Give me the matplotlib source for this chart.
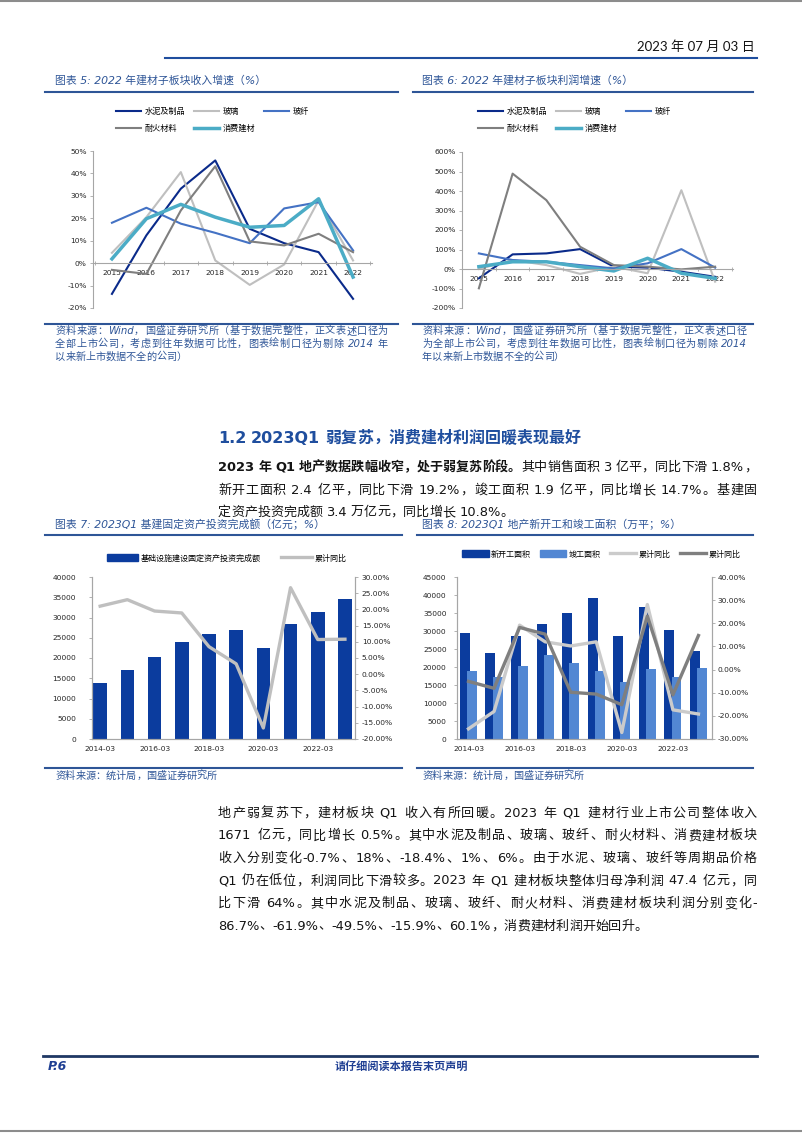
import numpy as np
import matplotlib
matplotlib.use('Agg')
import matplotlib.pyplot as plt
from matplotlib.lines import Line2D
from matplotlib.patches import Patch
from matplotlib.ticker import FuncFormatter

plt.rcParams['font.family'] = ['DejaVu Sans', 'Noto Sans CJK SC']
plt.rcParams['axes.unicode_minus'] = False

W, H = 802, 1133

# ---------------- data ----------------
years = ['2015', '2016', '2017', '2018', '2019', '2020', '2021', '2022']
sectors = ['水泥及制品', '玻璃', '玻纤', '耐火材料', '消费建材']

# 图表5 收入增速 (%)
rev_cement = [-13.7, 12.4, 33.2, 45.8, 15.3, 8.9, 4.9, -15.9]
rev_glass = [4.6, 20.5, 40.6, 1.2, -9.7, -0.6, 28.0, 1.2]
rev_fiber = [18.0, 24.7, 17.6, 13.5, 8.9, 24.4, 27.2, 5.7]
rev_refr = [-3.0, -4.8, 23.5, 43.2, 9.7, 7.9, 13.1, 4.9]
rev_consumer = [1.9, 19.8, 26.2, 20.5, 16.0, 16.8, 28.7, -6.2]

# 图表6 利润增速 (%)
prof_cement = [-48, 75, 80, 102, 12, 7, -14, -40]
prof_glass = [0, 46, 20, -25, 12, -22, 404, -65]
prof_fiber = [80, 46, 37, 20, 3, 29, 102, 7]
prof_refr = [-99, 489, 353, 114, 20, 12, -2, 12]
prof_consumer = [12, 37, 37, 12, -10, 55, -22, -48]

quarters = ['2014-03', '2015-03', '2016-03', '2017-03', '2018-03',
            '2019-03', '2020-03', '2021-03', '2022-03', '2023-03']

# 图表7 基建固定资产投资完成额 (亿元) / 累计同比 (%)
infra_inv = [13930, 17050, 20330, 24020, 25980, 26800, 22380, 28360, 31390, 34670]
infra_yoy = [21.0, 23.0, 19.5, 18.9, 8.5, 3.2, -16.6, 26.7, 10.7, 10.8]

# 图表8 新开工 / 竣工面积 (万平) / 累计同比 (%)
new_start = [29340, 23990, 28600, 31920, 35060, 39210, 28600, 36530, 30260, 24450]
completed = [18820, 17340, 20300, 23340, 21030, 18820, 15870, 19560, 17160, 19740]
new_start_yoy = [-25.6, -18.1, 19.2, 12.0, 10.2, 12.0, -27.2, 28.1, -17.4, -19.2]
completed_yoy = [-5.1, -8.1, 18.2, 15.3, -9.8, -10.6, -15.2, 23.1, -10.9, 14.7]

# ---------------- texts ----------------
src_note_5 = ['资料来源：Wind，国盛证券研究所（基于数据完整性，正文表述口径为',
              '全部上市公司，考虑到往年数据可比性，图表绘制口径为剔除 2014 年',
              '以来新上市数据不全的公司）']
src_note_6 = ['资料来源：Wind，国盛证券研究所（基于数据完整性，正文表述口径',
              '为全部上市公司，考虑到往年数据可比性，图表绘制口径为剔除 2014',
              '年以来新上市数据不全的公司）']
para1_bold = '2023 年 Q1 地产数据跌幅收窄，处于弱复苏阶段。'
para1 = ['其中销售面积 3 亿平，同比下滑 1.8%，',
         '新开工面积 2.4 亿平，同比下滑 19.2%，竣工面积 1.9 亿平，同比增长 14.7%。基建固',
         '定资产投资完成额 3.4 万亿元，同比增长 10.8%。']
para2 = ['地产弱复苏下，建材板块 Q1 收入有所回暖。2023 年 Q1 建材行业上市公司整体收入',
         '1671 亿元，同比增长 0.5%。其中水泥及制品、玻璃、玻纤、耐火材料、消费建材板块',
         '收入分别变化-0.7%、18%、-18.4%、1%、6%。由于水泥、玻璃、玻纤等周期品价格',
         'Q1 仍在低位，利润同比下滑较多。2023 年 Q1 建材板块整体归母净利润 47.4 亿元，同',
         '比下滑 64%。其中水泥及制品、玻璃、玻纤、耐火材料、消费建材板块利润分别变化-',
         '86.7%、-61.9%、-49.5%、-15.9%、60.1%，消费建材利润开始回升。']

# ---------------- style ----------------
sector_colors = {'水泥及制品': '#0A2A8A', '玻璃': '#BFBFBF', '玻纤': '#4472C4',
                 '耐火材料': '#7F7F7F', '消费建材': '#4BACC6'}
BLUE = '#2E5597'
HEAD = '#1F4E9E'
TEXT = '#141414'
AXIS = '#A6A6A6'
TICK = '#262626'
BAR_DARK = '#0B3C9E'
BAR_LIGHT = '#5287D3'

fig = plt.figure(figsize=(W / 100, H / 100), dpi=100)
renderer = fig.canvas.get_renderer()


def fy(y):
    return 1 - y / H


def rule(x0, x1, y, color=BLUE, lw=1.5):
    fig.add_artist(Line2D([x0 / W, x1 / W], [fy(y), fy(y)], transform=fig.transFigure,
                          color=color, lw=lw))


def axes_px(x0, y0, x1, y1):
    return fig.add_axes([x0 / W, fy(y1), (x1 - x0) / W, (y1 - y0) / H])


def put_line(y, segments, x0, x1=None, size=9.4, color=TEXT, style='normal'):
    # split into CJK chars / ascii runs / spaces, then optionally justify to x1
    em = size * 100 / 72
    chunks = []
    for text, weight in segments:
        buf = ''
        for ch in text:
            if ord(ch) < 128 and ch != ' ':
                buf += ch
                continue
            if buf:
                chunks.append((buf, weight))
                buf = ''
            chunks.append((ch, weight))
        if buf:
            chunks.append((buf, weight))
    items = []
    base = fy(y + 0.36 * em)
    for c, weight in chunks:
        if c == ' ':
            items.append((None, 0.3 * em))
            continue
        t = fig.text(0, base, c, fontsize=size, fontweight=weight, color=color,
                     fontstyle=style, va='baseline', ha='left')
        if ord(c[0]) >= 128:
            w = em
        else:
            w = t.get_window_extent(renderer).width
        items.append((t, w))
    gap = 0
    if x1 is not None and len(items) > 1:
        gap = (x1 - x0 - sum(w for _, w in items)) / (len(items) - 1)
    x = x0
    for t, w in items:
        if t is not None:
            t.set_x(x / W)
        x += w + gap


# ---------------- page furniture ----------------
rule(0, W, 1, color='#8C8C8C', lw=1.5)
rule(0, W, 1131, color='#8C8C8C', lw=1.5)
fig.text(755 / W, fy(47), '2023 年 07 月 03 日', fontsize=9.5, color=TEXT,
         ha='right', va='center', family=['Lato', 'Noto Sans CJK SC'])
rule(165, 757, 58, color=HEAD, lw=1.5)

rule(43, 757, 1056, color='#1F3864', lw=2)
fig.text(48 / W, fy(1066), 'P.6', fontsize=9, fontweight='bold', fontstyle='italic',
         color='#1F3F93', va='center')
fig.text(401 / W, fy(1066), '请仔细阅读本报告末页声明', fontsize=8, fontweight='bold',
         color='#1F3F93', ha='center', va='center')

# titles and rules
titles = [(55, 80, '图表 5: 2022 年建材子板块收入增速（%）'),
          (422, 80, '图表 6: 2022 年建材子板块利润增速（%）'),
          (55, 524, '图表 7: 2023Q1 基建固定资产投资完成额（亿元；%）'),
          (422, 524, '图表 8: 2023Q1 地产新开工和竣工面积（万平；%）')]
for x, y, s in titles:
    fig.text(x / W, fy(y), s, fontsize=7.8, fontstyle='italic', color=BLUE, va='center')
rule(45, 398, 92)
rule(413, 753, 92)
rule(45, 402, 535)
rule(417, 753, 535)
rule(45, 398, 324)
rule(413, 753, 324)
rule(45, 402, 768)
rule(417, 753, 768)

for i, s in enumerate(src_note_5):
    put_line(330 + 13 * i, [(s, 'normal')], 55, 388 if i < 2 else None,
             size=7.3, color=BLUE, style='italic')
for i, s in enumerate(src_note_6):
    put_line(330 + 13 * i, [(s, 'normal')], 422, 747 if i < 2 else None,
             size=7.3, color=BLUE, style='italic')
put_line(775, [('资料来源：统计局，国盛证券研究所', 'normal')], 55, size=7.3, color=BLUE, style='italic')
put_line(775, [('资料来源：统计局，国盛证券研究所', 'normal')], 422, size=7.3, color=BLUE, style='italic')

# body text
put_line(437, [('1.2 2023Q1 弱复苏，消费建材利润回暖表现最好', 'bold')], 218, size=11.5, color=HEAD)
put_line(466, [(para1_bold, 'bold'), (para1[0], 'normal')], 218, 757)
put_line(489, [(para1[1], 'normal')], 218, 757)
put_line(511, [(para1[2], 'normal')], 218)
for i, s in enumerate(para2):
    put_line(812 + 22.6 * i, [(s, 'normal')], 218, 757 if i < len(para2) - 1 else None)


# ---------------- line charts (图表5, 图表6) ----------------
def line_chart(box, series, ylim, ystep, xlim, legend_top):
    ax = axes_px(*box)
    x = np.arange(len(years))
    lines = []
    for name, vals in zip(sectors, series):
        lw = 2.5 if name == '消费建材' else 1.5
        ln, = ax.plot(x, vals, color=sector_colors[name], lw=lw)
        lines.append(ln)
    ax.set_xlim(*xlim)
    ax.set_ylim(*ylim)
    ax.set_yticks(np.arange(ylim[0], ylim[1] + ystep / 2, ystep))
    ax.yaxis.set_major_formatter(FuncFormatter(lambda v, p: f'{v:.0f}%'))
    ax.set_xticks(x, years)
    ax.set_xticks(np.arange(-0.5, len(years), 1), minor=True)
    ax.spines['bottom'].set_position(('data', 0))
    for s in ['top', 'right']:
        ax.spines[s].set_visible(False)
    for s in ['left', 'bottom']:
        ax.spines[s].set_color(AXIS)
        ax.spines[s].set_linewidth(0.8)
    ax.tick_params(axis='y', length=2, width=0.6, color=AXIS, labelsize=5.4, labelcolor=TICK, pad=2.5)
    ax.tick_params(axis='x', which='major', length=0, labelsize=5.4, labelcolor=TICK, pad=5)
    ax.tick_params(axis='x', which='minor', length=3, width=0.6, direction='inout', color=AXIS)
    ax.patch.set_alpha(0)
    order = [0, 3, 1, 4, 2]
    ax.legend([lines[i] for i in order], [sectors[i] for i in order], loc='upper left',
              bbox_to_anchor=(legend_top[0] / W, fy(legend_top[1])), bbox_transform=fig.transFigure,
              ncol=3, frameon=False, fontsize=5.9, handlelength=3.1, handletextpad=0.45,
              columnspacing=1.0, labelspacing=0.95, borderpad=0, borderaxespad=0)
    return ax


line_chart((93, 151, 372, 308),
           [rev_cement, rev_glass, rev_fiber, rev_refr, rev_consumer],
           (-20, 50), 10, (-0.55, 7.55), (116, 107))
line_chart((462, 152, 733, 308),
           [prof_cement, prof_glass, prof_fiber, prof_refr, prof_consumer],
           (-200, 600), 100, (-0.48, 7.53), (478, 107))

# ---------------- 图表7 ----------------
x = np.arange(len(quarters))
tick_labels = [q if i % 2 == 0 else '' for i, q in enumerate(quarters)]

ax7 = axes_px(92, 577, 355, 739)
bars7 = ax7.bar(x, infra_inv, width=0.5, color=BAR_DARK)
ax7.set_xlim(-0.3, 9.37)
ax7.set_ylim(0, 40000)
ax7.set_yticks(np.arange(0, 40001, 5000))
ax7.set_xticks(x, tick_labels)
ax7b = ax7.twinx()
line7, = ax7b.plot(x, infra_yoy, color='#BFBFBF', lw=2.4)
ax7b.set_ylim(-20, 30)
ax7b.set_yticks(np.arange(-20, 30.1, 5))
ax7b.yaxis.set_major_formatter(FuncFormatter(lambda v, p: f'{v:.2f}%'))

# ---------------- 图表8 ----------------
ax8 = axes_px(457, 577, 712, 739)
bars8a = ax8.bar(x - 0.14, new_start, width=0.39, color=BAR_DARK)
bars8b = ax8.bar(x + 0.14, completed, width=0.39, color=BAR_LIGHT)
ax8.set_xlim(-0.45, 9.53)
ax8.set_ylim(0, 45000)
ax8.set_yticks(np.arange(0, 45001, 5000))
ax8.set_xticks(x, tick_labels)
ax8b = ax8.twinx()
line8a, = ax8b.plot(x, new_start_yoy, color='#CBCBCB', lw=2.4)
line8b, = ax8b.plot(x, completed_yoy, color='#7F7F7F', lw=2.4)
ax8b.set_ylim(-30, 40)
ax8b.set_yticks(np.arange(-30, 40.1, 10))
ax8b.yaxis.set_major_formatter(FuncFormatter(lambda v, p: f'{v:.2f}%'))

for a in [ax7, ax8, ax7b, ax8b]:
    a.spines['top'].set_visible(False)
    for s in ['left', 'right', 'bottom']:
        a.spines[s].set_color(AXIS)
        a.spines[s].set_linewidth(0.8)
    a.tick_params(axis='both', length=2.5, width=0.6, color=AXIS, labelsize=5.4, labelcolor=TICK)
    a.tick_params(axis='x', length=0, pad=5)
ax7.tick_params(axis='y', pad=9)
ax8.tick_params(axis='y', pad=5)
ax7b.tick_params(axis='y', pad=2.5)
ax8b.tick_params(axis='y', pad=1.5)

ax7b.legend([Patch(color=BAR_DARK), line7], ['基础设施建设固定资产投资完成额', '累计同比'],
            loc='center left', bbox_to_anchor=(107 / W, fy(558)), bbox_transform=fig.transFigure,
            ncol=2, frameon=False, fontsize=5.8, handlelength=3.9, handleheight=0.9,
            handletextpad=0.3, columnspacing=2.5, borderpad=0, borderaxespad=0)
ax8b.legend([Patch(color=BAR_DARK), Patch(color=BAR_LIGHT), line8a, line8b],
            ['新开工面积', '竣工面积', '累计同比', '累计同比'],
            loc='center left', bbox_to_anchor=(462 / W, fy(554)), bbox_transform=fig.transFigure,
            ncol=4, frameon=False, fontsize=5.8, handlelength=3.3, handleheight=0.9,
            handletextpad=0.3, columnspacing=1.1, borderpad=0, borderaxespad=0)

fig.savefig('out.png', dpi=100)
